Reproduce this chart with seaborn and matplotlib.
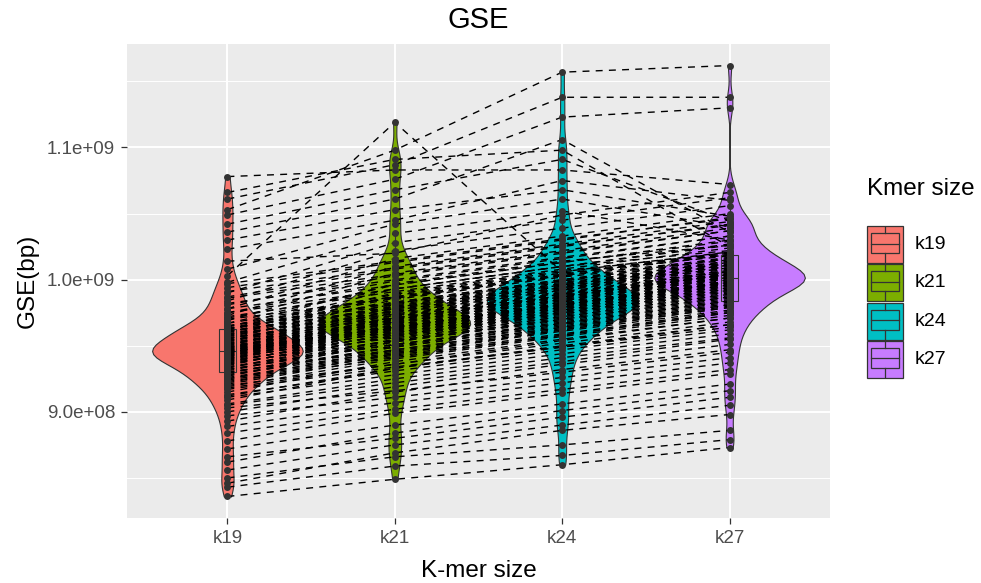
import numpy as np
import pandas as pd
import matplotlib
matplotlib.use("Agg")
import matplotlib.pyplot as plt
from matplotlib.patches import Rectangle
from matplotlib.lines import Line2D
from matplotlib.ticker import FixedLocator, FixedFormatter
import seaborn as sns

# ---------------- data (GSE in Mbp, one entry per sample, same sample order) ----------------
categories = ["k19", "k21", "k24", "k27"]
colors = ["#F8766D", "#7CAE00", "#00BFC4", "#C77CFF"]

k19_mb = [836, 843, 846, 850, 856, 862, 866,
          872, 878, 884, 889, 893, 897, 900, 903, 906, 909, 911, 913, 915, 917, 919, 920, 922, 923,
          924, 925, 926, 927, 928, 929, 930, 931, 932, 933, 934, 935, 936, 937, 938, 939, 940, 940,
          941, 942, 942, 943, 944, 944, 945,
          945, 946, 946, 947, 948, 948, 949, 950, 951, 952, 953, 954, 955, 956, 957, 958, 959, 960,
          960, 961, 962, 962, 963, 963, 964,
          965, 967, 969, 971, 973, 975, 978, 981, 984, 987, 990, 994, 998, 1003, 1008, 1014,
          1023, 1030, 1036, 1042, 1049, 1053, 1061, 1066, 1078,
          905, 912, 918, 921, 925, 928, 930, 932, 934, 936, 937, 938, 939, 940, 941, 942, 943, 943,
          944, 945, 945, 946, 946, 947, 947, 948, 949, 949, 950, 951, 952, 953, 954, 955, 956, 957,
          958, 959, 961, 963, 965, 967, 970, 972, 975, 978, 982, 986, 991, 997]

k21_mb = [849, 859, 869, 866, 875, 884, 880,
          890, 899, 902, 907, 915, 911, 919, 916, 925, 933, 928, 931, 938, 934, 940, 936, 944, 941,
          943, 947, 945, 950, 946, 953, 949, 955, 951, 958, 954, 960, 957, 962, 959, 964, 961, 966,
          963, 968, 962, 970, 965, 972, 964,
          965, 972, 967, 975, 964, 977, 969, 979, 970, 973, 982, 976, 985, 971, 980, 988, 974, 983,
          990, 978, 986, 993, 981, 989, 997,
          987, 996, 1005, 993, 1010, 999, 1016, 1003, 1022, 1008, 1028, 1013, 1035, 1119, 1042, 1020,
          1045, 1053, 1061, 1068, 1076, 1098, 1087, 1091, 1083,
          922, 933, 936, 942, 944, 949, 947, 953, 951, 957, 954, 959, 956, 961, 958, 963, 960, 964,
          962, 966, 963, 968, 965, 969, 964, 970, 967, 971, 968, 973, 970, 975, 971, 977, 973, 978,
          976, 980, 979, 983, 982, 987, 986, 991, 993, 996, 1000, 1004, 1009, 1014]

k24_mb = [860, 867, 886, 875, 890, 901, 896,
          906, 914, 917, 922, 932, 926, 936, 930, 941, 950, 944, 947, 955, 949, 957, 952, 961, 958,
          959, 964, 962, 967, 963, 970, 966, 972, 968, 975, 971, 977, 974, 979, 976, 981, 978, 983,
          980, 985, 979, 987, 982, 989, 981,
          982, 989, 984, 992, 981, 994, 986, 996, 987, 990, 999, 993, 1002, 988, 997, 1005, 991, 1000,
          1007, 995, 1003, 1010, 998, 1006, 1014,
          1004, 1013, 1022, 1010, 1027, 1016, 1033, 1020, 1039, 1025, 1045, 1030, 1052, 1006, 1061, 1049,
          1075, 1068, 1106, 1091, 1123, 1157, 1138, 1098, 1083,
          938, 949, 954, 958, 962, 965, 964, 969, 967, 973, 970, 975, 972, 977, 974, 979, 976, 981,
          978, 982, 980, 984, 981, 986, 982, 987, 984, 988, 985, 990, 987, 992, 988, 994, 990, 995,
          993, 997, 996, 1000, 999, 1004, 1003, 1008, 1010, 1013, 1017, 1021, 1026, 1031]

k27_mb = [873, 879, 898, 886, 905, 916, 911,
          921, 929, 932, 937, 947, 941, 951, 945, 956, 966, 959, 962, 971, 964, 973, 968, 977, 975,
          976, 981, 979, 984, 980, 987, 983, 989, 985, 992, 988, 994, 991, 996, 993, 998, 995, 1000,
          997, 1002, 996, 1004, 999, 1006, 998,
          999, 1004, 1001, 1007, 998, 1009, 1002, 1011, 1003, 1005, 1013, 1008, 1015, 1004, 1011, 1018,
          1006, 1014, 1020, 1010, 1016, 1022, 1012, 1019, 1026,
          1021, 1030, 1039, 1027, 1044, 1033, 1050, 1037, 1056, 1042, 1062, 1047, 1030, 1021, 1040, 1066,
          1060, 1048, 1036, 1044, 1130, 1162, 1138, 1025, 1072,
          955, 966, 971, 975, 979, 982, 981, 986, 984, 990, 987, 992, 989, 994, 991, 996, 993, 998,
          995, 999, 997, 1001, 998, 1003, 999, 1004, 1001, 1005, 1002, 1007, 1004, 1009, 1005, 1011,
          1007, 1012, 1010, 1014, 1013, 1017, 1016, 1020, 1019, 1024, 1026, 1029, 1033, 1037, 1041, 1046]

y_ticks = [9.0e8, 1.0e9, 1.1e9]
y_tick_labels = ["9.0e+08", "1.0e+09", "1.1e+09"]
y_minor = [8.5e8, 9.5e8, 1.05e9, 1.15e9]

title = "GSE"
x_title = "K-mer size"
y_title = "GSE(bp)"
legend_title = "Kmer size"

# ---------------- table ----------------
series = {"k19": k19_mb, "k21": k21_mb, "k24": k24_mb, "k27": k27_mb}
rows = []
for cat in categories:
    for sid, v in enumerate(series[cat]):
        rows.append({"sample": sid, "kmer": cat, "gse": v * 1e6})
df = pd.DataFrame(rows)

# ---------------- figure ----------------
W, H = 981, 583
plt.rcParams["font.family"] = ["Liberation Sans", "DejaVu Sans"]
fig = plt.figure(figsize=(W / 100, H / 100), dpi=100)
fig.patch.set_facecolor("white")

L, R, T, B = 127, 830, 44, 518
ax = fig.add_axes([L / W, 1 - B / H, (R - L) / W, (B - T) / H])
ax.set_facecolor("#EBEBEB")

pal = dict(zip(categories, colors))

sns.violinplot(data=df, x="kmer", y="gse", hue="kmer", order=categories, hue_order=categories,
               palette=pal, inner=None, cut=0, width=0.9, density_norm="area", bw_adjust=0.5,
               linecolor="#333333", linewidth=0.8, saturation=1, legend=False, ax=ax, zorder=1)

sns.boxplot(data=df, x="kmer", y="gse", hue="kmer", order=categories, hue_order=categories,
            palette=pal, width=0.1, showfliers=False, linecolor="#333333", linewidth=0.8,
            saturation=1, legend=False, ax=ax, showcaps=False, zorder=2)

sns.lineplot(data=df, x="kmer", y="gse", units="sample", estimator=None, color="black",
             linewidth=1.0, linestyle=(0, (5, 4.5)), legend=False, ax=ax, zorder=3)

sns.stripplot(data=df, x="kmer", y="gse", order=categories, jitter=False, color="#333333",
              size=5, linewidth=0, ax=ax, zorder=4)

# ---------------- axes styling ----------------
vals = df["gse"].values
rng = vals.max() - vals.min()
ax.set_ylim(vals.min() - 0.05 * rng, vals.max() + 0.05 * rng)
ax.set_xlim(-0.6, len(categories) - 0.4)

ax.yaxis.set_major_locator(FixedLocator(y_ticks))
ax.yaxis.set_major_formatter(FixedFormatter(y_tick_labels))
ax.yaxis.set_minor_locator(FixedLocator(y_minor))
ax.set_xticks(range(len(categories)))
ax.set_xticklabels(categories)

ax.set_axisbelow(True)
ax.grid(which="major", axis="both", color="white", linewidth=1.4)
ax.grid(which="minor", axis="y", color="white", linewidth=0.7)
ax.xaxis.grid(True, which="major", color="white", linewidth=1.4)

for s in ax.spines.values():
    s.set_visible(False)
ax.tick_params(axis="both", which="major", length=4.5, width=0.9, color="#333333",
               labelcolor="#4D4D4D", labelsize=13.5, pad=4)
ax.tick_params(axis="y", which="minor", length=0)
ax.set_xlabel("")
ax.set_ylabel("")

def fx(px):
    return px / W

def fy(py):
    return 1 - py / H

fig.text(fx((L + R) / 2), fy(20), title, ha="center", va="center", fontsize=21, color="black")
fig.text(fx((L + R) / 2), fy(577), x_title, ha="center", va="baseline", fontsize=17.5, color="black")
fig.text(fx(28), fy((T + B) / 2), y_title, ha="center", va="center", rotation=90,
         fontsize=17.5, color="black")

# ---------------- legend (drawn as ggplot-like keys) ----------------
fig.text(fx(867), fy(189), legend_title, ha="left", va="center", fontsize=17.5, color="black")
for i, (lab, col) in enumerate(zip(categories, colors)):
    top = 226 + i * 38.3
    fig.add_artist(Rectangle((fx(867), fy(top + 37)), 36 / W, 37 / H, facecolor=col,
                             edgecolor="#333333", linewidth=0.9))
    fig.add_artist(Rectangle((fx(871), fy(top + 27)), 28 / W, 20 / H, facecolor=col,
                             edgecolor="#333333", linewidth=0.9))
    fig.add_artist(Line2D([fx(871), fx(899)], [fy(top + 17.5)] * 2, color="#333333", linewidth=0.9))
    fig.add_artist(Line2D([fx(885)] * 2, [fy(top + 1), fy(top + 7)], color="#333333", linewidth=0.9))
    fig.add_artist(Line2D([fx(885)] * 2, [fy(top + 27), fy(top + 36)], color="#333333", linewidth=0.9))
    fig.text(fx(915), fy(top + 18.5), lab, ha="left", va="center", fontsize=14, color="black")

fig.savefig("out.png", dpi=100)
